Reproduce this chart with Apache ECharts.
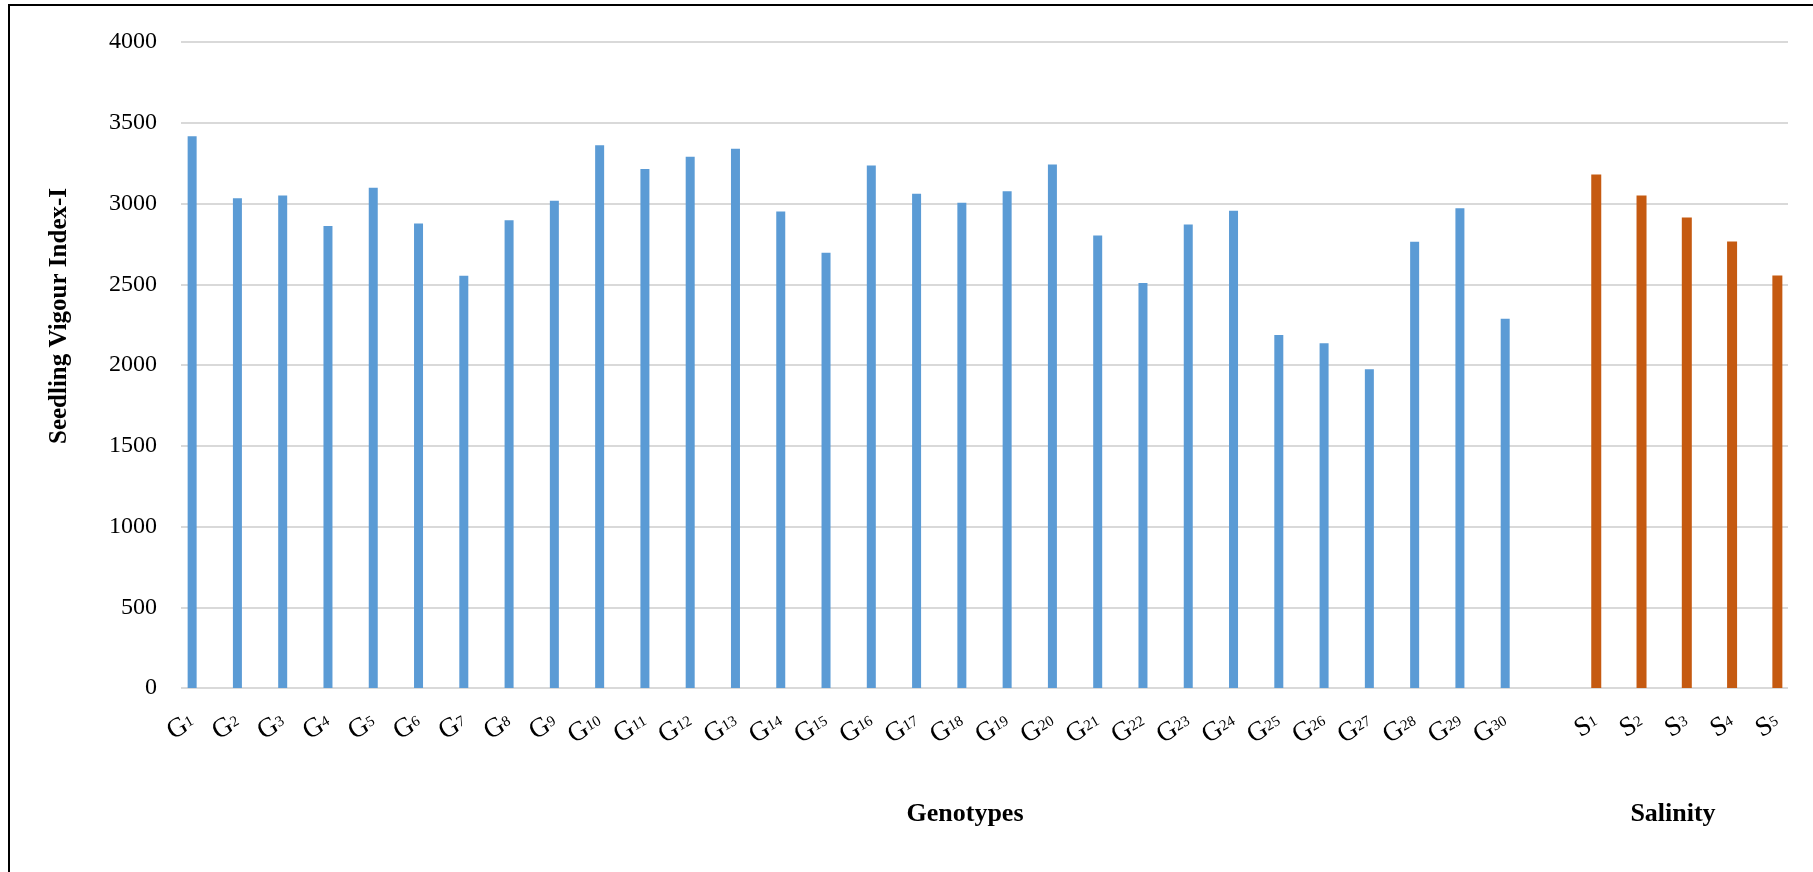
<!DOCTYPE html>
<html>
<head>
<meta charset="utf-8">
<title>Seedling Vigour Index-I</title>
<script src="https://cdn.jsdelivr.net/npm/echarts@6/dist/echarts.min.js"></script>
<style>
  html, body { margin: 0; padding: 0; background: #fff; }
  #chart { width: 1813px; height: 872px; }
</style>
</head>
<body>
<div id="chart"></div>
<script>
// categories: 30 genotypes, one empty slot, 5 salinity levels
var genotypes = ['G1','G2','G3','G4','G5','G6','G7','G8','G9','G10',
    'G11','G12','G13','G14','G15','G16','G17','G18','G19','G20',
    'G21','G22','G23','G24','G25','G26','G27','G28','G29','G30'];
var salinity = ['S1','S2','S3','S4','S5'];

// values
var genotypeValues = [3417, 3033, 3050, 2860, 3097, 2876, 2552, 2897, 3017, 3360,
    3213, 3289, 3339, 2950, 2695, 3235, 3060, 3004, 3076, 3241,
    2802, 2508, 2870, 2955, 2186, 2134, 1973, 2763, 2971, 2286];
var salinityValues = [3180, 3050, 2913, 2765, 2554];

var yTicks = { min: 0, max: 4000, interval: 500 };

var fontFam = "'Liberation Serif', 'Times New Roman', serif";

var categories = genotypes.concat([''], salinity);
var blueData = genotypeValues.concat([null], salinity.map(function () { return null; }));
var orangeData = genotypes.map(function () { return null; }).concat([null], salinityValues);

var myChart = echarts.init(document.getElementById('chart'));

var option = {
    animation: false,
    backgroundColor: '#fff',
    grid: [
        // grid for gridlines and y labels
        { left: 181, right: 25, top: 42, bottom: 184 },
        // grid for the bars
        { left: 170, right: 13, top: 42, bottom: 184 }
    ],
    xAxis: [
        {
            type: 'category',
            gridIndex: 0,
            data: categories,
            show: false
        },
        {
            type: 'category',
            gridIndex: 1,
            data: categories,
            axisLine: { show: false },
            axisTick: { show: false },
            axisLabel: {
                interval: 0,
                rotate: 30,
                margin: 32,
                color: '#000',
                fontFamily: fontFam,
                formatter: function (v) {
                    if (!v) return '';
                    return '{a|' + v.charAt(0) + '}{b|' + v.slice(1) + '}';
                },
                rich: {
                    a: { fontSize: 27, fontFamily: fontFam, color: '#000' },
                    b: { fontSize: 15, fontFamily: fontFam, color: '#000', verticalAlign: 'middle' }
                }
            }
        }
    ],
    yAxis: [
        {
            type: 'value',
            gridIndex: 0,
            min: yTicks.min,
            max: yTicks.max,
            interval: yTicks.interval,
            axisLine: { show: false },
            axisTick: { show: false },
            axisLabel: {
                margin: 24,
                fontSize: 24,
                color: '#000',
                fontFamily: fontFam,
                formatter: function (v) { return String(v); }
            },
            splitLine: {
                show: true,
                lineStyle: { color: '#d9d9d9', width: 2 }
            }
        },
        {
            type: 'value',
            gridIndex: 1,
            min: yTicks.min,
            max: yTicks.max,
            interval: yTicks.interval,
            show: false,
            splitLine: { show: false }
        }
    ],
    graphic: [
        {
            type: 'rect',
            shape: { x: 9, y: 5, width: 1900, height: 1000 },
            style: { fill: 'none', stroke: '#000', lineWidth: 2 },
            silent: true
        },
        {
            type: 'text',
            x: 60,
            y: 316,
            rotation: Math.PI / 2,
            style: {
                text: 'Seedling Vigour Index-I',
                font: 'bold 25px ' + fontFam,
                fill: '#000',
                textAlign: 'center',
                textVerticalAlign: 'middle'
            }
        },
        {
            type: 'text',
            x: 965,
            y: 814,
            style: {
                text: 'Genotypes',
                font: 'bold 26px ' + fontFam,
                fill: '#000',
                textAlign: 'center',
                textVerticalAlign: 'middle'
            }
        },
        {
            type: 'text',
            x: 1673,
            y: 814,
            style: {
                text: 'Salinity',
                font: 'bold 26px ' + fontFam,
                fill: '#000',
                textAlign: 'center',
                textVerticalAlign: 'middle'
            }
        }
    ],
    series: [
        {
            name: 'Genotypes',
            type: 'bar',
            xAxisIndex: 1,
            yAxisIndex: 1,
            barWidth: 9,
            barGap: '-100%',
            itemStyle: { color: '#5b9bd5' },
            data: blueData
        },
        {
            name: 'Salinity',
            type: 'bar',
            xAxisIndex: 1,
            yAxisIndex: 1,
            barWidth: 10,
            barGap: '-100%',
            itemStyle: { color: '#c55a11' },
            data: orangeData
        }
    ]
};

myChart.setOption(option);
</script>
</body>
</html>
